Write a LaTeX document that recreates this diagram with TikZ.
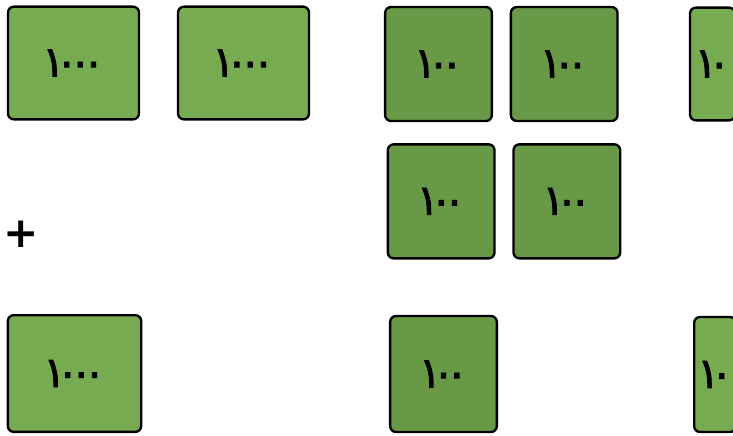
\documentclass[tikz,border=0pt]{standalone}
\usepackage{fontspec}
\newfontfamily\arabicfont[Script=Arabic, LetterSpace=-22, FakeBold=1.8]{DejaVu Sans}
\newfontfamily\signfont{DejaVu Sans}
\definecolor{tilegreen}{RGB}{118, 171, 81}
\definecolor{tiledark}{RGB}{103, 153, 70}
\usetikzlibrary{positioning}

\begin{document}
\begin{tikzpicture}[
    x=0.03cm, y=-0.03cm,
    tile/.style={rectangle, rounded corners=5pt, draw=black, line width=2pt,
                 fill=tilegreen, inner sep=0pt,
                 font=\arabicfont\fontsize{36}{38}\selectfont},
    thousand/.style={tile, minimum width=3.93cm, minimum height=3.38cm},
    hundred/.style={tile, fill=tiledark, minimum width=3.2cm, minimum height=3.42cm},
    ten/.style={tile, minimum width=1.35cm, minimum height=3.38cm}
  ]
  \useasboundingbox (0,0) rectangle (733,435);
  \clip (0,0) rectangle (733,435);
  \node[thousand] (thA) at (73.5,63) {١٠٠٠};
  \node[thousand, right=1.1cm of thA] (thB) {١٠٠٠};
  \node[hundred] (hunA) at (438.5,64) {١٠٠};
  \node[hundred, right=0.5cm of hunA] (hunB) {١٠٠};
  \node[ten] (tenA) at (712.5,64) {١٠};
  \node[hundred, below=0.63cm of hunA, xshift=0.08cm] (hunC) {١٠٠};
  \node[hundred, right=0.5cm of hunC] (hunD) {١٠٠};
  \node[font=\signfont\bfseries\fontsize{36}{38}\selectfont, inner sep=0pt] (plus) at (21,234) {+};
  \node[thousand, minimum width=4cm, minimum height=3.5cm] (thC) at (74.5,373.5) {١٠٠٠};
  \node[hundred, minimum height=3.48cm] (hunE) at (443.5,374) {١٠٠};
  \node[ten, minimum width=1.25cm, minimum height=3.45cm] (tenB) at (715,374.5) {١٠};
\end{tikzpicture}
\end{document}
